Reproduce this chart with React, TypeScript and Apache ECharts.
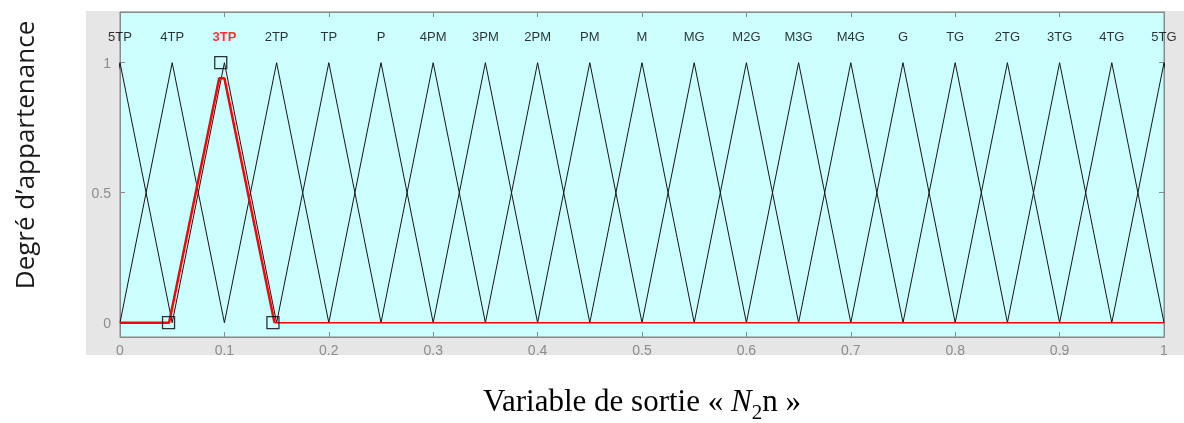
import React, { useEffect, useRef } from "react";
import * as echarts from "echarts";

// Membership function names (top labels) and triangle parameters [a, b, c]
const mfNames = ["5TP", "4TP", "3TP", "2TP", "TP", "P", "4PM", "3PM", "2PM", "PM", "M", "MG", "M2G", "M3G", "M4G", "G", "TG", "2TG", "3TG", "4TG", "5TG"];
const mfParams: number[][] = [
  [-0.05, 0, 0.05], [0, 0.05, 0.1], [0.05, 0.1, 0.15], [0.1, 0.15, 0.2], [0.15, 0.2, 0.25],
  [0.2, 0.25, 0.3], [0.25, 0.3, 0.35], [0.3, 0.35, 0.4], [0.35, 0.4, 0.45], [0.4, 0.45, 0.5],
  [0.45, 0.5, 0.55], [0.5, 0.55, 0.6], [0.55, 0.6, 0.65], [0.6, 0.65, 0.7], [0.65, 0.7, 0.75],
  [0.7, 0.75, 0.8], [0.75, 0.8, 0.85], [0.8, 0.85, 0.9], [0.85, 0.9, 0.95], [0.9, 0.95, 1],
  [0.95, 1, 1.05],
];
const labelLevel = 1.1;
const selectedName = "3TP";

// Highlighted (red) membership function of 3TP
const selectedX = [0, 0.047, 0.095, 0.1, 0.148];
const selectedY = [0, 0, 0.94, 0.94, 0];
const tailX = [0.148, 1];
const tailY = [0, 0];
// Square handles
const handleX = [0.0465, 0.0965, 0.1465];
const handleY = [0, 1, 0];

const xTicks = [0, 0.1, 0.2, 0.3, 0.4, 0.5, 0.6, 0.7, 0.8, 0.9, 1];
const yTicks = [0, 0.5, 1];

export default function App() {
  const ref = useRef<HTMLDivElement>(null);
  useEffect(() => {
    if (!ref.current) return;
    const chart = echarts.init(ref.current, null, { renderer: "svg" });
    const axisGray = "#8a8a8a";
    const labelGray = "#8c8c8c";

    const triSeries = mfParams.map((p, i) => ({
      type: "line",
      name: mfNames[i],
      data: [[p[0], 0], [p[1], 1], [p[2], 0]],
      showSymbol: false,
      symbol: "none",
      lineStyle: { color: "#151515", width: 1 },
      z: 2,
      silent: true,
    }));

    const option: any = {
      animation: false,
      grid: {
        left: 120,
        right: 20,
        top: 12,
        bottom: 86,
        show: true,
        backgroundColor: "#ccffff",
        borderColor: axisGray,
        borderWidth: 1,
      },
      xAxis: [
        {
          type: "value",
          min: 0,
          max: 1,
          interval: 0.1,
          position: "bottom",
          axisLine: { show: true, onZero: false, lineStyle: { color: axisGray } },
          axisTick: { show: true, inside: true, length: 5, lineStyle: { color: axisGray } },
          axisLabel: {
            color: labelGray,
            fontFamily: "Liberation Sans",
            fontSize: 14,
            margin: 6,
            customValues: xTicks,
            formatter: (v: number) => String(Math.round(v * 10) / 10),
          },
          splitLine: { show: false },
        },
        {
          type: "value",
          min: 0,
          max: 1,
          interval: 0.1,
          position: "top",
          axisLine: { show: true, onZero: false, lineStyle: { color: axisGray } },
          axisTick: { show: true, inside: true, length: 5, lineStyle: { color: axisGray } },
          axisLabel: { show: false },
          splitLine: { show: false },
        },
      ],
      yAxis: [
        {
          type: "value",
          min: -0.055,
          max: 1.195,
          position: "left",
          axisLine: { show: true, onZero: false, lineStyle: { color: axisGray } },
          axisTick: { show: true, inside: true, length: 5, customValues: yTicks, lineStyle: { color: axisGray } },
          axisLabel: {
            color: labelGray,
            fontFamily: "Liberation Sans",
            fontSize: 14,
            margin: 9,
            customValues: yTicks,
          },
          splitLine: { show: false },
        },
        {
          type: "value",
          min: -0.055,
          max: 1.195,
          position: "right",
          axisLine: { show: true, onZero: false, lineStyle: { color: axisGray } },
          axisTick: { show: true, inside: true, length: 5, customValues: yTicks, lineStyle: { color: axisGray } },
          axisLabel: { show: false },
          splitLine: { show: false },
        },
      ],
      graphic: [
        {
          type: "rect",
          z: -100,
          shape: { x: 86, y: 11, width: 1098, height: 344 },
          style: { fill: "#e6e6e6" },
          silent: true,
        },
        {
          type: "text",
          x: 24,
          y: 155,
          rotation: Math.PI / 2,
          style: {
            text: "Degré d’appartenance",
            fill: "#1a1a1a",
            font: "26px 'Open Sans'",
            align: "center",
            verticalAlign: "middle",
          },
        },
        {
          type: "text",
          x: 642,
          y: 400,
          style: {
            text: "{a|Variable de sortie « }{i|N}{s|2}{a|n »}",
            align: "center",
            verticalAlign: "middle",
            rich: {
              a: { fontFamily: "Liberation Serif", fontSize: 31, color: "#000", lineHeight: 44 },
              i: { fontFamily: "Liberation Serif", fontSize: 31, fontStyle: "italic", color: "#000", lineHeight: 44 },
              s: { fontFamily: "Liberation Serif", fontSize: 21, color: "#000", lineHeight: 22, verticalAlign: "bottom" },
            },
          },
        },
      ],
      series: [
        ...triSeries,
        {
          type: "line",
          name: "selected",
          data: selectedX.map((x, i) => [x, selectedY[i]]),
          showSymbol: false,
          symbol: "none",
          lineStyle: { color: "#ff0000", width: 2.5 },
          z: 3,
        },
        {
          type: "line",
          name: "selectedTail",
          data: tailX.map((x, i) => [x, tailY[i]]),
          showSymbol: false,
          symbol: "none",
          lineStyle: { color: "#ff0000", width: 1.5 },
          z: 3,
        },
        {
          type: "scatter",
          name: "handles",
          data: handleX.map((x, i) => [x, handleY[i]]),
          symbol: "rect",
          symbolSize: 12,
          itemStyle: { color: "rgba(0,0,0,0)", borderColor: "#000", borderWidth: 1.3 },
          clip: false,
          z: 4,
        },
        {
          type: "scatter",
          name: "labels",
          clip: false,
          symbolSize: 1,
          itemStyle: { color: "rgba(0,0,0,0)" },
          data: mfParams.map((p, i) => ({
            value: [p[1], labelLevel],
            name: mfNames[i],
            label: mfNames[i] === selectedName
              ? { color: "#ff0000", fontWeight: "bold" }
              : { color: "#000", fontWeight: "normal" },
          })),
          label: {
            show: true,
            position: "inside",
            formatter: (d: any) => d.name,
            fontFamily: "Liberation Sans",
            fontSize: 13,
          },
          z: 5,
        },
      ],
    };
    chart.setOption(option);
    return () => chart.dispose();
  }, []);
  return <div ref={ref} style={{ position: "fixed", left: 0, top: 0, width: 1184, height: 423 }} />;
}
